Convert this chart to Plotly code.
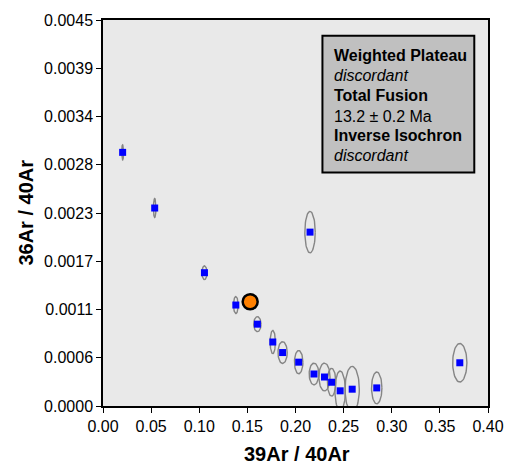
import numpy as np
import plotly.graph_objects as go

# Step data: 39Ar/40Ar, 36Ar/40Ar and error-ellipse half-widths
x_ratio = [0.0204, 0.0537, 0.1054, 0.1380, 0.1604, 0.1764, 0.1866, 0.2033,
           0.2192, 0.2301, 0.2375, 0.2464, 0.2589, 0.2844, 0.3707, 0.2151]
y_ratio = [0.002957, 0.002308, 0.001554, 0.001177, 0.000954, 0.000746, 0.000623,
           0.000511, 0.000373, 0.000338, 0.000277, 0.000177, 0.000196, 0.000211,
           0.000504, 0.002027]
x_err = [0.0010, 0.0013, 0.0026, 0.0024, 0.0038, 0.0027, 0.0048, 0.0044,
         0.0050, 0.0058, 0.0044, 0.0054, 0.0074, 0.0054, 0.0074, 0.0054]
y_err = [0.000088, 0.000110, 0.000080, 0.000100, 0.000087, 0.000135, 0.000127,
         0.000135, 0.000127, 0.000162, 0.000162, 0.000231, 0.000266, 0.000185,
         0.000225, 0.000242]

# Total fusion point
tf_x = [0.1529]
tf_y = [0.001215]

# Axis ticks
x_ticks = [0.00, 0.05, 0.10, 0.15, 0.20, 0.25, 0.30, 0.35, 0.40]
x_ticktext = ["0.00", "0.05", "0.10", "0.15", "0.20", "0.25", "0.30", "0.35", "0.40"]
y_ticks = [i * 0.0045 / 8 for i in range(9)]
y_ticktext = ["0.0000", "0.0006", "0.0011", "0.0017", "0.0023", "0.0028",
              "0.0034", "0.0039", "0.0045"]

box_lines = ["<b>Weighted Plateau</b>", "<i>discordant</i>", "<b>Total Fusion</b>",
             "13.2 ± 0.2 Ma", "<b>Inverse Isochron</b>", "<i>discordant</i>"]

FONT = "Liberation Sans, Arial, sans-serif"

# Build ellipse outlines from centres and half-widths
t = np.linspace(0, 2 * np.pi, 60)
ex, ey = [], []
for cx, cy, rx, ry in zip(x_ratio, y_ratio, x_err, y_err):
    ex.extend(list(cx + rx * np.cos(t)) + [None])
    ey.extend(list(cy + ry * np.sin(t)) + [None])

fig = go.Figure()
fig.add_trace(go.Scatter(x=ex, y=ey, mode="lines",
                         line=dict(color="#858585", width=1.4),
                         hoverinfo="skip", showlegend=False))
fig.add_trace(go.Scatter(x=x_ratio, y=y_ratio, mode="markers",
                         marker=dict(symbol="square", size=7, color="#0000FF"),
                         showlegend=False))
fig.add_trace(go.Scatter(x=tf_x, y=tf_y, mode="markers",
                         marker=dict(symbol="circle", size=15, color="#FF8000",
                                     line=dict(color="black", width=2.5)),
                         showlegend=False))

L, R, T, B = 103, 20, 16, 67
W, H = 516, 473
pw, ph = W - L - R, H - T - B

def px_x(p):
    return (p - L) / pw

def px_y(p):
    return (H - B - p) / ph

fig.add_shape(type="rect", xref="paper", yref="paper",
              x0=px_x(327), x1=px_x(482), y0=px_y(170), y1=px_y(32),
              fillcolor="#C0C0C0", line=dict(color="black", width=2), layer="above")

line_centres = [52, 72, 92.5, 113, 133, 153]
for txt, yc in zip(box_lines, line_centres):
    fig.add_annotation(text=txt, xref="paper", yref="paper", x=px_x(337), y=px_y(yc),
                       xanchor="left", yanchor="middle", showarrow=False,
                       font=dict(family=FONT, size=16, color="black"))

fig.add_annotation(text="<b>39Ar / 40Ar</b>", xref="paper", yref="paper",
                   x=px_x(301), y=px_y(455), xanchor="center", yanchor="middle",
                   showarrow=False, font=dict(family=FONT, size=20, color="black"))
fig.add_annotation(text="<b>36Ar / 40Ar</b>", xref="paper", yref="paper",
                   x=px_x(24), y=px_y(211), xanchor="center", yanchor="middle", textangle=-90,
                   showarrow=False, font=dict(family=FONT, size=20, color="black"))

axis_common = dict(showline=True, linecolor="black", linewidth=1.5, mirror=True,
                   ticks="outside", ticklen=5, tickcolor="black", tickwidth=1,
                   showgrid=False, zeroline=False,
                   tickfont=dict(family=FONT, size=16, color="black"))

fig.update_xaxes(range=[0, 0.4], tickvals=x_ticks, ticktext=x_ticktext, **axis_common)
fig.update_yaxes(range=[0, 0.0045], tickvals=y_ticks, ticktext=y_ticktext, **axis_common)

fig.update_layout(width=W, height=H, margin=dict(l=L, r=R, t=T, b=B),
                  plot_bgcolor="#E9E9E9", paper_bgcolor="white",
                  font=dict(family=FONT, color="black"))

fig.write_html("out.html")
